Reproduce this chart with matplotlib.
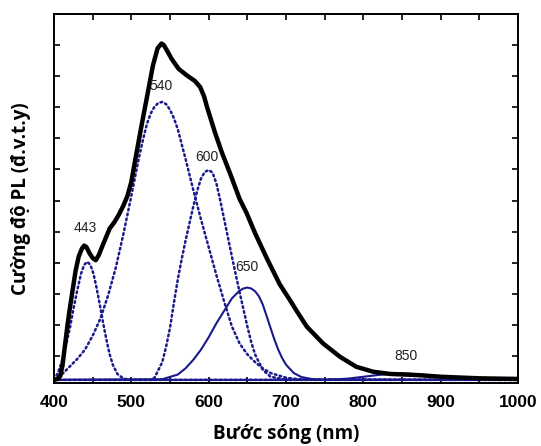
import matplotlib
matplotlib.use("Agg")
import matplotlib.pyplot as plt
from matplotlib.ticker import MultipleLocator, NullFormatter

# measured PL spectrum (black)
pl_nm = [400, 405, 408, 411, 414, 417, 420, 424, 428, 432, 436, 439, 442, 446,
         450, 454, 458, 462, 467, 472, 478, 484, 490, 495, 500, 505, 512, 520,
         528, 534, 539, 542, 546, 552, 561, 572, 582, 589, 594, 598, 608, 617,
         628, 640, 649, 660, 675, 692, 705, 715, 727, 748, 770, 791, 813, 835,
         855, 873, 900, 950, 1000]
pl_val = [0.23, 0.26, 0.35, 0.7, 1.3, 1.9, 2.45, 3.1, 3.75, 4.2, 4.45, 4.55, 4.5, 4.3,
          4.15, 4.08, 4.25, 4.5, 4.8, 5.1, 5.3, 5.55, 5.85, 6.15, 6.6, 7.3, 8.25, 9.3,
          10.35, 10.9, 11.05, 11.0, 10.83, 10.56, 10.24, 10.02, 9.85, 9.65, 9.35, 9.0, 8.2, 7.55,
          6.85, 6.05, 5.6, 4.95, 4.15, 3.3, 2.8, 2.4, 1.94, 1.4, 0.97, 0.65, 0.49, 0.42,
          0.4, 0.38, 0.33, 0.28, 0.26]

# fitted components (blue)
p443_nm = [400, 405, 410, 416, 421, 425, 430, 435, 439, 443, 447, 451, 455, 460,
           464, 468, 472, 476, 482, 490, 500, 1000]
p443_val = [0.23, 0.45, 0.8, 1.4, 1.95, 2.5, 3.1, 3.65, 3.93, 4.03, 3.93, 3.65, 3.2, 2.55,
            2.0, 1.5, 1.05, 0.72, 0.42, 0.27, 0.23, 0.23]

p540_nm = [400, 410, 420, 430, 440, 450, 460, 470, 480, 490, 500, 510, 515, 520,
           525, 530, 535, 540, 545, 550, 555, 560, 570, 580, 590, 600, 610, 620,
           630, 640, 650, 660, 670, 680, 700, 720, 1000]
p540_val = [0.23, 0.4, 0.65, 0.9, 1.2, 1.65, 2.2, 2.95, 3.85, 4.95, 6.15, 7.4, 7.95, 8.45,
            8.8, 9.02, 9.14, 9.17, 9.1, 8.92, 8.65, 8.3, 7.35, 6.35, 5.4, 4.5, 3.6, 2.75,
            1.95, 1.4, 1.05, 0.8, 0.6, 0.45, 0.3, 0.24, 0.23]

p600_nm = [400, 525, 530, 540, 545, 550, 555, 560, 565, 570, 575, 580, 585, 590,
           595, 600, 605, 610, 615, 620, 625, 630, 635, 640, 645, 650, 655, 660,
           670, 680, 700, 1000]
p600_val = [0.23, 0.23, 0.3, 0.8, 1.3, 1.9, 2.7, 3.45, 4.1, 4.7, 5.25, 5.8, 6.3, 6.7,
            6.92, 6.98, 6.9, 6.55, 6.0, 5.4, 4.8, 4.2, 3.62, 3.05, 2.5, 1.95, 1.45, 1.05,
            0.55, 0.33, 0.24, 0.23]

p650_nm = [400, 540, 560, 570, 580, 590, 600, 610, 620, 630, 640, 645, 650, 655,
           660, 665, 670, 675, 680, 685, 690, 695, 700, 710, 720, 735, 750, 1000]
p650_val = [0.23, 0.25, 0.4, 0.6, 0.87, 1.2, 1.6, 2.05, 2.45, 2.85, 3.1, 3.17, 3.2, 3.17,
            3.08, 2.92, 2.65, 2.28, 1.9, 1.53, 1.2, 0.93, 0.72, 0.45, 0.32, 0.25, 0.23, 0.23]

p850_nm = [400, 750, 780, 800, 820, 840, 850, 860, 880, 900, 920, 950, 1000]
p850_val = [0.23, 0.23, 0.27, 0.33, 0.39, 0.43, 0.44, 0.43, 0.39, 0.33, 0.28, 0.24, 0.23]

peak_labels = ["443", "540", "600", "650", "850"]
label_x = [441, 538, 598, 650, 855]
label_y = [5.1, 9.68, 7.4, 3.85, 1.0]

xticks = [400, 500, 600, 700, 800, 900, 1000]

blue = "#1a1a8c"

fig = plt.figure(figsize=(5.41, 4.46), dpi=100)
ax = fig.add_axes([0.0998, 0.1413, 0.8577, 0.8273])

dots = dict(color=blue, lw=1.8, linestyle=(0, (0.7, 1.3)), dash_capstyle="round")
ax.plot(p443_nm, p443_val, **dots)
ax.plot(p540_nm, p540_val, **dots)
ax.plot(p600_nm, p600_val, **dots)
ax.plot(p650_nm, p650_val, color=blue, lw=1.5)
ax.plot(p850_nm, p850_val, color=blue, lw=1.5)
ax.plot(pl_nm, pl_val, color="black", lw=3.2, solid_joinstyle="round",
        solid_capstyle="round")

for t, x, y in zip(peak_labels, label_x, label_y):
    ax.text(x, y, t, ha="center", va="center", fontsize=10, color="#222222",
            family="Liberation Sans")

ax.set_xlim(400, 1000)
ax.set_ylim(0.13, 12.0)
ax.set_xticks(xticks)
ax.set_xticklabels([str(v) for v in xticks], family="Liberation Sans",
                   fontweight="bold", fontsize=12.5)
ax.xaxis.set_minor_locator(MultipleLocator(50))
ax.yaxis.set_major_locator(MultipleLocator(1))
ax.yaxis.set_major_formatter(NullFormatter())
ax.tick_params(which="both", direction="in", top=True, right=True,
               length=4, width=1.2)
ax.tick_params(axis="x", pad=9)
for s in ax.spines.values():
    s.set_linewidth(1.4)

ax.set_xlabel("Bước sóng (nm)", labelpad=10, family=["Open Sans", "DejaVu Sans"],
              fontweight="bold", fontsize=13.5)
ax.set_ylabel("Cường độ PL (đ.v.t.y)", labelpad=13, family=["Open Sans", "DejaVu Sans"],
              fontweight="bold", fontsize=13.5)

fig.savefig("out.png", dpi=100)
